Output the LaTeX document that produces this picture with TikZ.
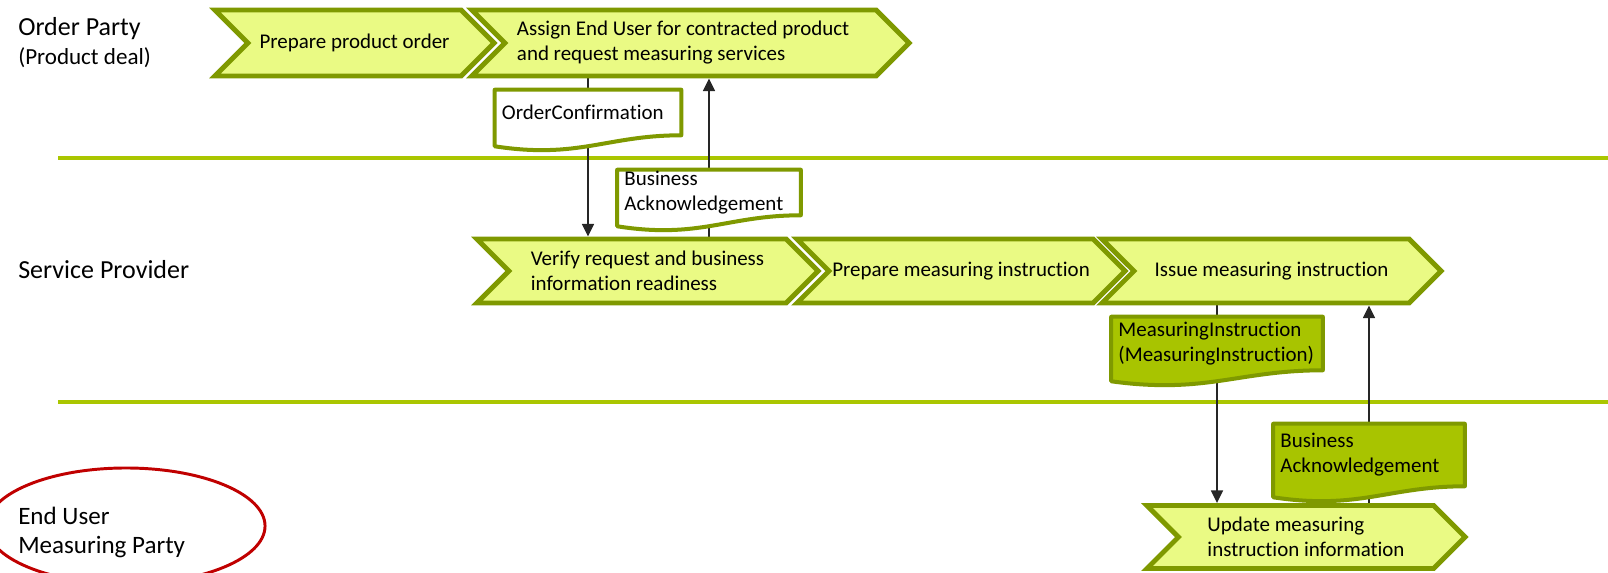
\documentclass[tikz,border=0pt]{standalone}
\usepackage{fontspec}
\setmainfont{Carlito}[Ligatures={NoCommon}]
\usetikzlibrary{shapes.symbols, arrows.meta, calc, backgrounds}

\definecolor{chevfill}{RGB}{234,250,132}
\definecolor{chevedge}{RGB}{127,153,0}
\definecolor{lanegreen}{RGB}{170,198,0}
\definecolor{msgfill}{RGB}{168,196,0}
\definecolor{flowgray}{RGB}{38,38,38}
\definecolor{ringred}{RGB}{192,0,0}

\begin{document}
\begin{tikzpicture}[x=0.025cm, y=-0.025cm,
    chev/.style={signal, signal to=east, signal from=west, signal pointer angle=90,
      draw=chevedge, fill=chevfill, line width=3.5pt, inner sep=0pt, align=left,
      font=\fontsize{14.9pt}{17.8pt}\selectfont},
    doc/.style={rectangle, inner xsep=0.175cm, inner ysep=0pt, align=flush left,
      font=\fontsize{14.9pt}{17.8pt}\selectfont},
    flow/.style={draw=flowgray, line width=1.2pt, -{Triangle[length=9pt, width=8.5pt]}},
    lane/.style={draw=lanegreen, line width=2.9pt},
    party/.style={anchor=west, inner sep=0pt, align=left,
      font=\fontsize{17.8pt}{20.6pt}\selectfont}]
  \useasboundingbox (0,0) rectangle (1608,572);

  % lanes
  \node[party] (op) at (18,43) {\fontsize{18.5pt}{20.6pt}\selectfont Order Party\\\fontsize{16.4pt}{20.6pt}\selectfont (Product deal)};
  \node[party, font=\fontsize{18.5pt}{20.6pt}\selectfont] (sp) at (18,270) {Service Provider};
  \node[party] (eu) at (18,532) {End User\\Measuring Party};

  % process steps
  \node[chev, minimum width=6.975cm, minimum height=1.65cm] (prep) at (354.5,43) {Prepare product order};
  \node[chev, minimum width=10.925cm, minimum height=1.65cm, text width=8.675cm, align=flush left] (assign) at (690.5,43) {Assign End User for contracted product\\and request measuring services};
  \node[chev, minimum width=8.525cm, minimum height=1.6cm] (verify) at (647.5,271) {Verify request and business\\information readiness};
  \node[chev, minimum width=8.2cm, minimum height=1.6cm] (prepmi) at (961,271) {Prepare measuring instruction};
  \node[chev, minimum width=8.475cm, minimum height=1.6cm] (issue) at (1271.5,271) {Issue measuring instruction};
  \node[chev, minimum width=7.95cm, minimum height=1.575cm] (update) at (1306,537) {Update measuring\\instruction information};

  % messages
  \node[doc, text width=4.3cm, minimum height=1.125cm] (oc) at (588,112.5) {OrderConfirmation};
  \node[doc, text width=4.225cm, minimum height=1.125cm] (ba) at (709,192.5) {Business\\Acknowledgement};
  \node[doc, text width=4.925cm, minimum height=1.325cm] (mi) at (1217,343.5) {MeasuringInstruction\\(MeasuringInstruction)};
  \node[doc, text width=4.425cm, minimum height=1.55cm] (bb) at (1369,455) {Business\\Acknowledgement};

  \begin{pgfonlayer}{background}
    \draw[lane] (58,158) -- (1608,158);
    \draw[lane] (58,402) -- (1608,402);

    \draw[flow] (assign.south -| oc) -- (verify.north -| oc);
    \draw[flow] (verify.north -| ba) -- (assign.south -| ba);
    \draw[flow] (issue.south -| mi) -- (update.north -| mi);
    \draw[flow] (update.north -| bb) -- (issue.south -| bb);

    \foreach \d/\f in {oc/white, ba/white, mi/msgfill, bb/msgfill}
      \draw[draw=chevedge, line width=2.85pt, line join=round, fill=\f]
        (\d.north west) -- (\d.north east) -- (\d.south east)
        .. controls ($(\d.south east)!.4!(\d.south west)$) and ($(\d.south west)!.45!(\d.south east)+(0,24)$)
        .. ($(\d.south west)+(0,11)$) -- cycle;
  \end{pgfonlayer}

  \begin{scope}
    \clip (0,0) rectangle (1608,572);
    \draw[ringred, line width=2.1pt] (126,526) ellipse [x radius=3.475cm, y radius=1.45cm];
  \end{scope}
\end{tikzpicture}
\end{document}
